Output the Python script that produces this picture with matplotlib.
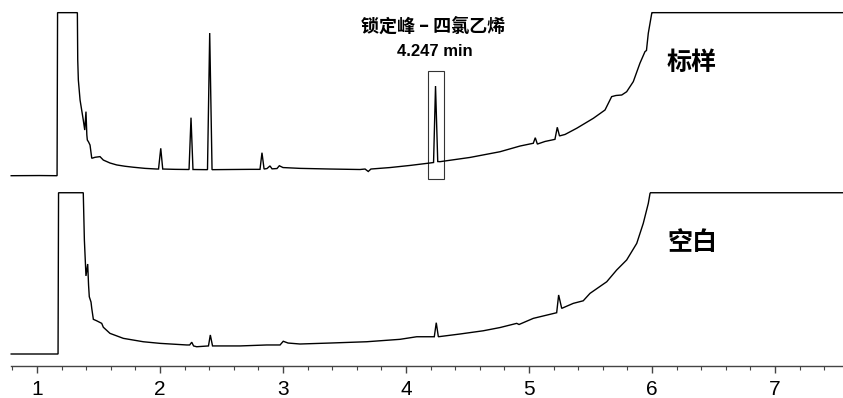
import matplotlib
matplotlib.use("Agg")
import matplotlib.pyplot as plt
from matplotlib.patches import Rectangle
from matplotlib.ticker import MultipleLocator

# ---- data (retention time in min, detector signal in % of full scale; 100 = clipped) ----
sample_t = [0.79, 1.02, 1.163, 1.167, 1.328, 1.331, 1.336, 1.350, 1.376, 1.388, 1.398, 1.405,
            1.409, 1.419, 1.431, 1.445, 1.455, 1.472, 1.512, 1.539, 1.593, 1.648, 1.715, 1.783,
            1.878, 1.973, 1.988, 2.006, 2.022, 2.122, 2.236, 2.252, 2.268, 2.386, 2.404, 2.423,
            2.569, 2.732, 2.813, 2.829, 2.846, 2.870, 2.894, 2.911, 2.951, 2.970, 3.0, 3.138,
            3.382, 3.626, 3.667, 3.693, 3.715, 3.870, 4.033, 4.195, 4.224, 4.240, 4.258, 4.276,
            4.520, 4.764, 4.927, 5.035, 5.051, 5.068, 5.130, 5.211, 5.230, 5.248, 5.293, 5.388,
            5.523, 5.618, 5.672, 5.707, 5.754, 5.794, 5.848, 5.902, 5.943, 5.955, 5.970, 5.998,
            6.0, 7.56]
sample_v = [0.0, 0.1, 0.0, 100, 100, 71.0, 58.7, 46.4, 34.2, 28.0, 39.3, 25.0,
            21.9, 20.7, 18.8, 10.7, 10.9, 11.3, 11.7, 9.6, 7.8, 6.6, 5.8, 5.2,
            4.5, 4.1, 4.1, 16.8, 4.1, 3.9, 3.8, 35.6, 3.8, 3.7, 87.5, 3.7,
            3.8, 3.9, 3.9, 14.1, 4.1, 4.4, 6.0, 4.2, 4.4, 6.1, 5.0, 4.5,
            4.1, 3.8, 4.1, 2.6, 4.1, 5.0, 6.3, 7.8, 8.1, 55.0, 8.7, 8.6,
            11.2, 14.7, 18.2, 19.9, 23.3, 19.4, 21.0, 22.3, 29.7, 24.4, 25.3, 29.1,
            35.2, 40.3, 48.5, 49.2, 49.5, 51.5, 57.7, 69.0, 76.1, 76.8, 87.4, 99.6,
            100, 100]

blank_t = [0.79, 1.02, 1.171, 1.175, 1.376, 1.385, 1.393, 1.398, 1.412, 1.419, 1.425, 1.439,
           1.445, 1.458, 1.485, 1.526, 1.539, 1.593, 1.702, 1.864, 2.0, 2.217, 2.241, 2.258,
           2.273, 2.298, 2.394, 2.409, 2.427, 2.650, 2.867, 2.976, 3.002, 3.041, 3.138, 3.382,
           3.680, 3.951, 4.087, 4.230, 4.246, 4.263, 4.439, 4.628, 4.764, 4.900, 4.919, 5.035,
           5.225, 5.241, 5.266, 5.360, 5.441, 5.496, 5.632, 5.713, 5.794, 5.876, 5.929, 5.970,
           5.984, 5.988, 7.56]
blank_v = [0.0, 0.0, 0.0, 100, 100, 70.7, 57.0, 48.4, 55.8, 42.8, 35.5, 32.2,
           28.3, 21.5, 20.6, 19.0, 16.6, 12.8, 9.7, 7.6, 6.6, 5.6, 5.6, 7.3,
           5.0, 4.5, 5.0, 11.8, 5.0, 5.0, 5.6, 5.6, 7.9, 6.8, 6.2, 6.8,
           7.6, 9.1, 10.7, 10.7, 19.4, 10.7, 12.4, 14.4, 16.4, 19.0, 18.3, 22.1,
           25.6, 36.6, 28.3, 31.4, 33.0, 37.6, 44.8, 52.1, 58.3, 68.6, 81.0, 93.4,
           99.6, 100, 100]

lock_rt = 4.240
lock_title = "锁定峰 – 四氯乙烯"
lock_label = "4.247 min"
sample_name = "标样"
blank_name = "空白"
xticks_major = [1, 2, 3, 4, 5, 6, 7]
xtick_labels = ["1", "2", "3", "4", "5", "6", "7"]

# ---- figure ----
W, H = 843, 398
fig = plt.figure(figsize=(W / 100, H / 100), dpi=100)

def axpos(top_px, bottom_px):
    return [0, 1 - bottom_px / H, 1, (bottom_px - top_px) / H]

xlim = (0.699, 7.553)
ax1 = fig.add_axes(axpos(5, 185))
ax2 = fig.add_axes(axpos(185, 366))
ax1.set_xlim(*xlim)
ax2.set_xlim(*xlim)
ax1.set_ylim(-5.7, 104.7)
ax2.set_ylim(-7.44, 104.8)

for ax in (ax1, ax2):
    for s in ax.spines.values():
        s.set_visible(False)
    ax.set_yticks([])
    ax.patch.set_alpha(0)

ax1.set_xticks([])
ax1.plot(sample_t, sample_v, color="black", lw=1.0, solid_joinstyle="miter")
ax2.plot(blank_t, blank_v, color="black", lw=1.0, solid_joinstyle="miter")

# lock-mass box
ax1.add_patch(Rectangle((lock_rt - 0.065, -2.0), 0.13, 66.2, fill=False,
                        edgecolor="#333333", lw=0.8))
ax1.text(lock_rt - 0.02, 91.4, lock_title, ha="center", va="center", fontsize=13,
         fontweight="bold", family=["Noto Sans CJK SC", "DejaVu Sans"])
ax1.text(lock_rt - 0.005, 76.1, lock_label, ha="center", va="center", fontsize=12,
         fontweight="bold", family=["Liberation Sans", "DejaVu Sans"])

ax1.text(6.325, 69.1, sample_name, ha="center", va="center", fontsize=18,
         fontweight="bold", family=["Noto Sans CJK SC", "DejaVu Sans"])
ax2.text(6.325, 68.8, blank_name, ha="center", va="center", fontsize=18,
         fontweight="bold", family=["Noto Sans CJK SC", "DejaVu Sans"])

# x axis
sp = ax2.spines["bottom"]
sp.set_visible(True)
sp.set_bounds(0.79, xlim[1])
sp.set_color("#444444")
sp.set_linewidth(1.0)
ax2.set_xticks(xticks_major)
ax2.set_xticklabels(xtick_labels, family=["Liberation Sans Narrow", "Liberation Sans"],
                    fontsize=15)
ax2.xaxis.set_minor_locator(MultipleLocator(0.2))
ax2.tick_params(axis="x", which="major", direction="out", length=5, width=1.0,
                color="#444444", pad=5)
ax2.tick_params(axis="x", which="minor", direction="out", length=3, width=0.8,
                color="#444444")

fig.savefig("out.png", dpi=100)
